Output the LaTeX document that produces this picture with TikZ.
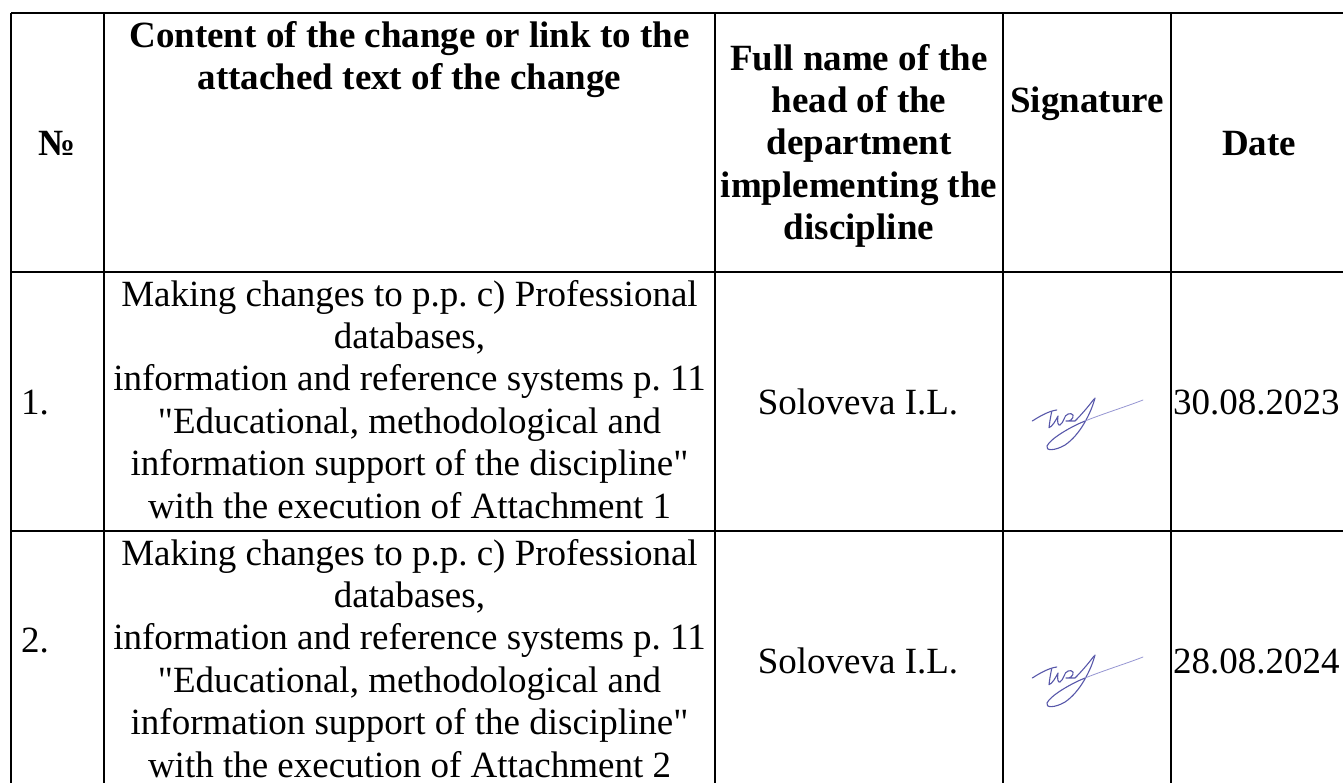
\documentclass[tikz,border=0pt]{standalone}
\usepackage{fontspec}
\setmainfont{Liberation Serif}
\newfontfamily\rawserif{Liberation Serif}
\frenchspacing
\newcommand\dq{{\rawserif\char34}}
\newcommand\mlines[1]{\vtop{\let\\\cr\halign{\hfil##\hfil\cr#1\crcr}}}
\tikzset{
  cell/.style={inner sep=0pt, font=\fontsize{37}{42.4}\selectfont},
  head/.style={inner sep=0pt, font=\fontsize{37}{42.4}\selectfont\bfseries},
  rule/.style={line width=1.4pt, black},
  sigpen/.style={draw={rgb,255:red,88;green,88;blue,170}, line width=1.1pt, line cap=round, line join=round},
  sigtail/.style={draw={rgb,255:red,150;green,150;blue,210}, line width=0.8pt, line cap=round},
  sig/.pic={
    \draw[sigpen] (7.3,36) .. controls (15,31) and (24,26) .. (31.7,25);
    \draw[sigpen] (26.7,26.7) .. controls (25.5,32) and (24.5,38) .. (24,42.7)
      .. controls (27,42) and (31,35) .. (33,31)
      .. controls (32,37) and (33,41) .. (35,40)
      .. controls (37,39) and (38,36) .. (39,34)
      .. controls (40,29) and (46,27) .. (48,30)
      .. controls (49,34) and (44,37) .. (41,36)
      .. controls (43,36) and (47,36) .. (50,36)
      .. controls (56,30) and (63,22) .. (69,14);
    \draw[sigpen] (70,13) .. controls (66,28) and (55,50) .. (40,60)
      .. controls (30,66) and (20,66) .. (22,61)
      .. controls (25,54) and (45,42) .. (60,36);
    \draw[sigtail] (60,36) .. controls (80,28) and (100,22) .. (118,15);
  }
}
\begin{document}
\begin{tikzpicture}[x=1pt,y=-1pt]
\useasboundingbox[fill=white] (0,0) rectangle (1343,782);
% table rules
\draw[rule] (11,13) -- (1347,13);
\draw[rule] (11,272) -- (1347,272);
\draw[rule] (11,531) -- (1347,531);
\foreach \x in {11,104,715,1003,1171,1347}
  \draw[rule] (\x,13) -- (\x,800);
% header
\node[head, anchor=base] (hnum) at (57.5,155) {№};
\node[head, anchor=base] (hcontent) at (409.5,47.5) {\mlines{Content of the change or link to the\\attached text of the change}};
\node[head, anchor=base] (hname) at (859,70) {\mlines{Full name of the\\head of the\\department\\implementing the\\discipline}};
\node[head, anchor=base] (hsig) at (1087,112.4) {Signature};
\node[head, anchor=base] (hdate) at (1259,155) {Date};
% row 1
\node[cell, anchor=base west] (n1) at (21,414) {1.};
\node[cell, anchor=base] (c1) at (409.5,306) {\mlines{Making changes to p.p. c) Professional\\databases,\\information and reference systems p. 11\\\dq Educational, methodological and\\information support of the discipline\dq\\with the execution of Attachment 1}};
\node[cell, anchor=base] (f1) at (858,414) {Soloveva I.L.};
\pic (s1) at (1025,385) {sig};
\node[cell, anchor=base west] (d1) at (1173,414) {30.08.2023};
% row 2
\node[cell, anchor=base west] (n2) at (21,652) {2.};
\node[cell, anchor=base] (c2) at (409.5,565) {\mlines{Making changes to p.p. c) Professional\\databases,\\information and reference systems p. 11\\\dq Educational, methodological and\\information support of the discipline\dq\\with the execution of Attachment 2}};
\node[cell, anchor=base] (f2) at (858,673) {Soloveva I.L.};
\pic (s2) at (1025,642) {sig};
\node[cell, anchor=base west] (d2) at (1173,673) {28.08.2024};
\end{tikzpicture}
\end{document}
